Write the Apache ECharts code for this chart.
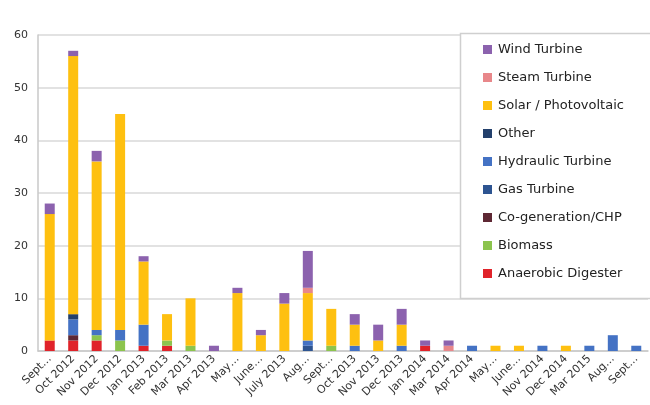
<!DOCTYPE html>
<html>
<head>
<meta charset="utf-8">
<script src="https://cdn.jsdelivr.net/npm/echarts@6/dist/echarts.min.js"></script>
<style>
html, body { margin: 0; padding: 0; background: #fff; }
#main { width: 650px; height: 405px; }
</style>
</head>
<body>
<div id="main"></div>
<script>
// categories (full month) and the text actually shown under each bar
var months = ['Sept 2012', 'Oct 2012', 'Nov 2012', 'Dec 2012', 'Jan 2013', 'Feb 2013', 'Mar 2013', 'Apr 2013',
	'May 2013', 'June 2013', 'July 2013', 'Aug 2013', 'Sept 2013', 'Oct 2013', 'Nov 2013', 'Dec 2013',
	'Jan 2014', 'Mar 2014', 'Apr 2014', 'May 2014', 'June 2014', 'Nov 2014', 'Dec 2014', 'Mar 2015',
	'Aug 2015', 'Sept 2015']
var tickLabels = ['Sept…', 'Oct 2012', 'Nov 2012', 'Dec 2012', 'Jan 2013', 'Feb 2013', 'Mar 2013', 'Apr 2013',
	'May…', 'June…', 'July 2013', 'Aug…', 'Sept…', 'Oct 2013', 'Nov 2013', 'Dec 2013',
	'Jan 2014', 'Mar 2014', 'Apr 2014', 'May…', 'June…', 'Nov 2014', 'Dec 2014', 'Mar 2015',
	'Aug…', 'Sept…']
var yTicks = [0, 10, 20, 30, 40, 50, 60]

// series values, bottom of the stack first
var anaerobic = [2, 2, 2, 0, 1, 1, 0, 0, 0, 0, 0, 0, 0, 0, 0, 0, 1, 0, 0, 0, 0, 0, 0, 0, 0, 0]
var biomass = [0, 0, 1, 2, 0, 1, 1, 0, 0, 0, 0, 0, 1, 0, 0, 0, 0, 0, 0, 0, 0, 0, 0, 0, 0, 0]
var cogen = [0, 1, 0, 0, 0, 0, 0, 0, 0, 0, 0, 0, 0, 0, 0, 0, 0, 0, 0, 0, 0, 0, 0, 0, 0, 0]
var gasTurbine = [0, 0, 0, 0, 0, 0, 0, 0, 0, 0, 0, 1, 0, 0, 0, 0, 0, 0, 0, 0, 0, 0, 0, 0, 0, 0]
var hydraulic = [0, 3, 1, 2, 4, 0, 0, 0, 0, 0, 0, 1, 0, 1, 0, 1, 0, 0, 1, 0, 0, 1, 0, 1, 3, 1]
var other = [0, 1, 0, 0, 0, 0, 0, 0, 0, 0, 0, 0, 0, 0, 0, 0, 0, 0, 0, 0, 0, 0, 0, 0, 0, 0]
var solar = [24, 49, 32, 41, 12, 5, 9, 0, 11, 3, 9, 9, 7, 4, 2, 4, 0, 0, 0, 1, 1, 0, 1, 0, 0, 0]
var steam = [0, 0, 0, 0, 0, 0, 0, 0, 0, 0, 0, 1, 0, 0, 0, 0, 0, 1, 0, 0, 0, 0, 0, 0, 0, 0]
var wind = [2, 1, 2, 0, 1, 0, 0, 1, 1, 1, 2, 7, 0, 2, 3, 3, 1, 1, 0, 0, 0, 0, 0, 0, 0, 0]

var seriesList = [
	{ name: 'Anaerobic Digester', data: anaerobic, color: '#e0232a' },
	{ name: 'Biomass', data: biomass, color: '#8cc44e' },
	{ name: 'Co-generation/CHP', data: cogen, color: '#5e2834' },
	{ name: 'Gas Turbine', data: gasTurbine, color: '#2d5491' },
	{ name: 'Hydraulic Turbine', data: hydraulic, color: '#4472c4' },
	{ name: 'Other', data: other, color: '#23406c' },
	{ name: 'Solar / Photovoltaic', data: solar, color: '#fec010' },
	{ name: 'Steam Turbine', data: steam, color: '#e8878a' },
	{ name: 'Wind Turbine', data: wind, color: '#8c62ae' }
]

var chart = echarts.init(document.getElementById('main'))

var option = {
	animation: false,
	textStyle: { fontFamily: 'DejaVu Sans' },
	grid: { left: 38, right: 2, top: 35, bottom: 54 },
	legend: {
		orient: 'vertical',
		left: 478,
		top: 38,
		itemWidth: 9,
		itemHeight: 9,
		itemGap: 15,
		icon: 'rect',
		textStyle: { fontSize: 13, color: '#222', padding: [0, 0, 0, 1] },
		data: seriesList.map(function (s) { return s.name }).reverse(),
		z: 20
	},
	graphic: [{
		type: 'rect',
		shape: { x: 460.5, y: 33.5, width: 200, height: 265 },
		style: { fill: '#fff', stroke: '#cfcfcf', lineWidth: 1.5 },
		z: 10
	}],
	xAxis: {
		type: 'category',
		data: months,
		axisLine: { lineStyle: { color: '#c8c8c8', width: 1.5 } },
		axisTick: { alignWithLabel: false, length: 5, lineStyle: { color: '#c8c8c8' } },
		axisLabel: {
			rotate: 45,
			interval: 0,
			fontSize: 11,
			color: '#333',
			margin: 6,
			formatter: function (v, i) { return tickLabels[i] }
		}
	},
	yAxis: {
		type: 'value',
		min: yTicks[0],
		max: yTicks[yTicks.length - 1],
		interval: 10,
		axisLine: { show: true, lineStyle: { color: '#c8c8c8', width: 1.5 } },
		axisTick: { show: false },
		splitLine: { lineStyle: { color: '#d9d9d9', width: 1.5 } },
		axisLabel: { fontSize: 11, color: '#333', margin: 10 }
	},
	series: seriesList.map(function (s) {
		return {
			name: s.name,
			type: 'bar',
			stack: 'total',
			barWidth: 10,
			itemStyle: { color: s.color },
			data: s.data
		}
	})
}

chart.setOption(option)
</script>
</body>
</html>
